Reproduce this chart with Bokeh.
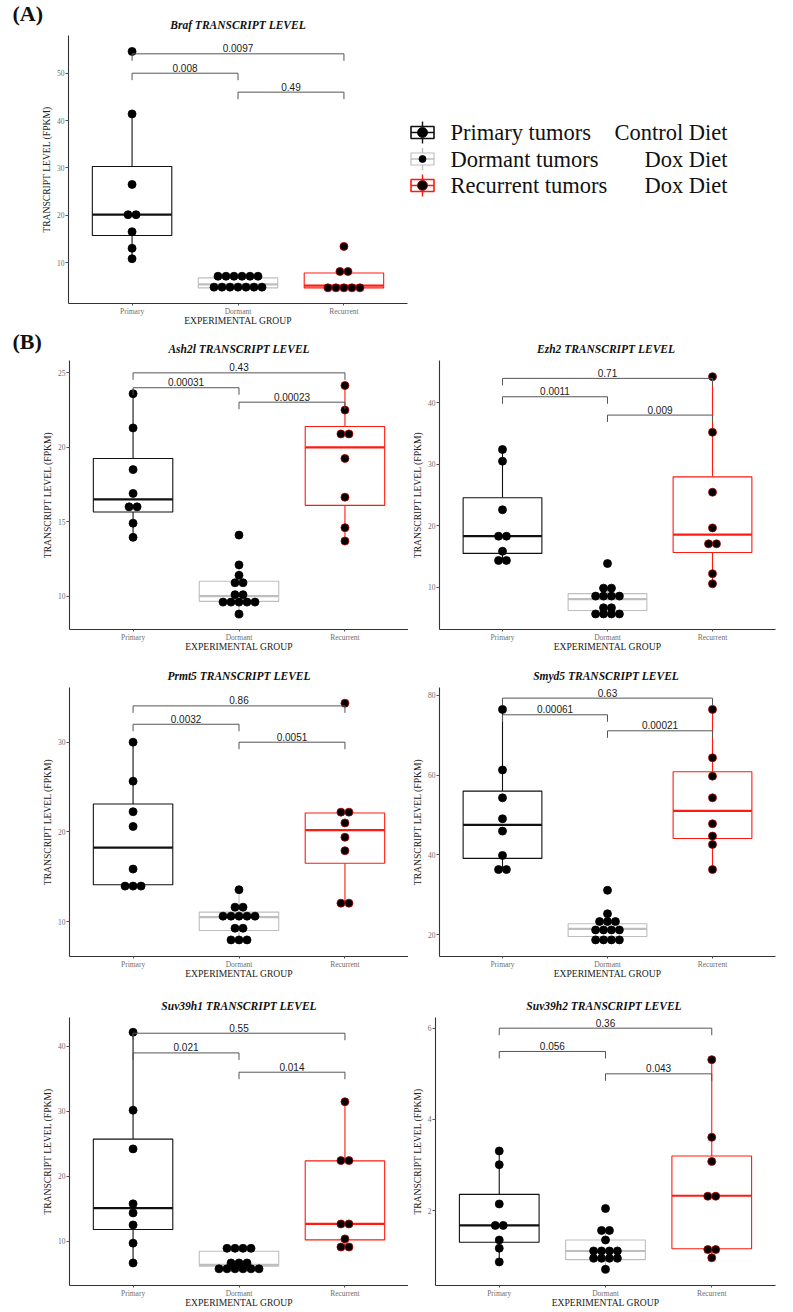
from bokeh.plotting import figure
from bokeh.layouts import column, row
from bokeh.models import Range1d, FixedTicker
from bokeh.embed import file_html
from bokeh.resources import INLINE
from bokeh.core.properties import value

# ---------------- data ----------------
GROUPS = ["Primary", "Dormant", "Recurrent"]
GROUP_X = [1, 2, 3]
BOX_COLORS = ["#111111", "#BEBEBE", "#FF1A10"]
DOT_EDGE = ["#000000", "#000000", "#B00000"]
LEGEND_LABELS = ["Primary tumors", "Dormant tumors", "Recurrent tumors"]
LEGEND_DIETS = ["Control Diet", "Dox Diet", "Dox Diet"]
BRACKET_PAIRS = [(1, 3), (1, 2), (2, 3)]

# Braf
braf_primary = [54.6, 41.4, 26.5, 20.1, 20.1, 16.5, 13.0, 10.8]
braf_dormant = [7.1, 7.1, 7.1, 7.1, 7.1, 7.1, 4.8, 4.8, 4.8, 4.8, 4.8, 4.8, 4.8]
braf_recurrent = [13.4, 8.1, 8.1, 4.65, 4.65, 4.65, 4.65, 4.65]
braf_lower = [10.8, 4.6, 4.6]
braf_q1 = [15.7, 4.65, 4.65]
braf_median = [20.1, 5.4, 5.1]
braf_q3 = [30.3, 6.75, 7.8]
braf_upper = [41.4, 7.1, 8.1]
braf_pvals = ["0.0097", "0.008", "0.49"]
braf_bracket_y = [54.1, 50.0, 46.0]
braf_yticks = [10, 20, 30, 40, 50]

# Ash2l
ash2l_primary = [23.6, 21.3, 18.5, 16.9, 16.0, 16.0, 14.9, 13.95]
ash2l_dormant = [14.1, 12.1, 11.4, 10.9, 10.9, 10.1, 10.1, 9.6, 9.6, 9.6, 9.6, 9.6, 8.8]
ash2l_recurrent = [24.15, 22.5, 20.9, 20.9, 19.25, 16.65, 14.6, 13.7]
ash2l_lower = [13.95, 8.8, 13.7]
ash2l_q1 = [15.65, 9.65, 16.1]
ash2l_median = [16.5, 10.0, 20.0]
ash2l_q3 = [19.25, 11.0, 21.4]
ash2l_upper = [23.6, 12.1, 24.15]
ash2l_pvals = ["0.43", "0.00031", "0.00023"]
ash2l_bracket_y = [25.0, 24.0, 23.03]
ash2l_yticks = [10, 15, 20, 25]

# Ezh2
ezh2_primary = [32.4, 30.5, 22.6, 18.3, 18.3, 15.85, 14.35, 14.35]
ezh2_dormant = [13.85, 9.85, 9.85, 8.55, 8.55, 8.55, 8.55, 6.65, 6.65, 5.65, 5.65, 5.65, 5.65]
ezh2_recurrent = [44.25, 35.2, 25.45, 19.65, 17.05, 17.05, 12.2, 10.55]
ezh2_lower = [14.35, 5.65, 10.55]
ezh2_q1 = [15.5, 6.2, 15.65]
ezh2_median = [18.3, 8.05, 18.55]
ezh2_q3 = [24.55, 8.95, 27.95]
ezh2_upper = [32.4, 9.85, 44.25]
ezh2_pvals = ["0.71", "0.0011", "0.009"]
ezh2_bracket_y = [43.97, 40.98, 38.0]
ezh2_yticks = [10, 20, 30, 40]

# Prmt5
prmt5_primary = [30.0, 25.65, 22.25, 20.6, 15.85, 13.95, 13.95, 13.95]
prmt5_dormant = [13.55, 11.6, 11.6, 10.6, 10.6, 10.6, 10.6, 10.6, 9.25, 9.25, 7.95, 7.95, 7.95]
prmt5_recurrent = [34.35, 22.2, 22.2, 21.0, 19.4, 17.9, 12.05, 12.05]
prmt5_lower = [13.95, 7.95, 12.05]
prmt5_q1 = [14.1, 9.0, 16.5]
prmt5_median = [18.25, 10.5, 20.2]
prmt5_q3 = [23.1, 11.05, 22.1]
prmt5_upper = [30.0, 13.55, 22.2]
prmt5_pvals = ["0.86", "0.0032", "0.0051"]
prmt5_bracket_y = [34.05, 32.0, 30.0]
prmt5_yticks = [10, 20, 30]

# Smyd5
smyd5_primary = [76.5, 61.3, 54.3, 49.05, 45.95, 39.85, 36.3, 36.3]
smyd5_dormant = [31.1, 25.2, 23.25, 23.25, 23.25, 21.15, 21.15, 21.15, 21.15, 18.65, 18.65, 18.65, 18.65]
smyd5_recurrent = [76.5, 64.35, 59.75, 54.3, 47.8, 44.7, 42.6, 36.3]
smyd5_lower = [36.3, 18.65, 36.3]
smyd5_q1 = [39.1, 19.5, 44.1]
smyd5_median = [47.5, 21.4, 51.05]
smyd5_q3 = [56.0, 22.7, 60.85]
smyd5_upper = [76.5, 25.2, 76.5]
smyd5_pvals = ["0.63", "0.00061", "0.00021"]
smyd5_bracket_y = [79.33, 75.15, 71.13]
smyd5_yticks = [20, 40, 60, 80]

# Suv39h1
suv39h1_primary = [42.15, 30.15, 24.2, 15.75, 14.35, 12.5, 9.7, 6.65]
suv39h1_dormant = [8.9, 8.9, 8.9, 8.9, 6.65, 6.65, 6.65, 5.75, 5.75, 5.75, 5.75, 5.75, 5.75]
suv39h1_recurrent = [31.45, 22.4, 22.4, 12.65, 12.65, 10.35, 9.1, 9.1]
suv39h1_lower = [6.65, 5.75, 9.1]
suv39h1_q1 = [11.8, 6.15, 10.2]
suv39h1_median = [15.1, 6.35, 12.65]
suv39h1_q3 = [25.7, 8.45, 22.35]
suv39h1_upper = [42.15, 8.9, 31.45]
suv39h1_pvals = ["0.55", "0.021", "0.014"]
suv39h1_bracket_y = [42.0, 38.97, 36.0]
suv39h1_yticks = [10, 20, 30, 40]

# Suv39h2
suv39h2_primary = [3.31, 3.01, 2.15, 1.68, 1.68, 1.36, 1.18, 0.88]
suv39h2_dormant = [2.05, 1.57, 1.57, 1.36, 1.12, 1.12, 1.12, 1.12, 0.96, 0.96, 0.96, 0.96, 0.72]
suv39h2_recurrent = [5.31, 3.61, 3.08, 2.32, 2.32, 1.15, 1.15, 0.97]
suv39h2_lower = [0.88, 0.72, 0.97]
suv39h2_q1 = [1.31, 0.93, 1.17]
suv39h2_median = [1.68, 1.12, 2.33]
suv39h2_q3 = [2.36, 1.36, 3.2]
suv39h2_upper = [3.31, 1.57, 5.31]
suv39h2_pvals = ["0.36", "0.056", "0.043"]
suv39h2_bracket_y = [6.0, 5.49, 5.0]
suv39h2_yticks = [2, 4, 6]

# ---------------- styling / layout ----------------
SERIF = "Liberation Serif"
SANS = "Liberation Sans"
DOT_PX = 8.0
BOX_HALF = 0.375
TIP_PX = 7.0
PVAL_LIFT_PX = 5.5
PAGE_W = 793
LEFT_W = 408
RIGHT_W = PAGE_W - LEFT_W
MBB = 26


def dot_offsets(vals, dx):
    xs = []
    i = 0
    while i < len(vals):
        j = i
        while j < len(vals) and vals[j] == vals[i]:
            j += 1
        n = j - i
        for k in range(n):
            xs.append((k - (n - 1) / 2.0) * dx)
        i = j
    return xs


def blank_fig(width, height, bottom_border=0):
    f = figure(width=width, height=height, output_backend="svg", toolbar_location=None,
               x_range=Range1d(0, width), y_range=Range1d(height - bottom_border, 0),
               x_axis_type=None, y_axis_type=None, min_border=0,
               min_border_bottom=bottom_border)
    f.outline_line_color = None
    f.grid.visible = False
    return f


def make_panel(pts, lo, q1, med, q3, hi, pvals, by, yticks, yr, width, height, mbl, mbr, mbb):
    p = figure(width=width, height=height, output_backend="svg",
               toolbar_location=None, x_range=Range1d(0.4, 3.6),
               y_range=Range1d(yr[0], yr[1]),
               min_border_left=mbl, min_border_right=mbr,
               min_border_top=0, min_border_bottom=mbb)
    p.outline_line_color = None
    p.grid.visible = False

    frame_w = width - mbl - mbr
    frame_h = height - mbb
    px_per_x = frame_w / 3.2
    px_per_y = frame_h / (yr[1] - yr[0])
    dx = DOT_PX / px_per_x
    tip = TIP_PX / px_per_y
    lift = PVAL_LIFT_PX / px_per_y

    # whiskers
    p.segment(x0=GROUP_X, y0=q3, x1=GROUP_X, y1=hi, line_color=BOX_COLORS, line_width=1.1)
    p.segment(x0=GROUP_X, y0=lo, x1=GROUP_X, y1=q1, line_color=BOX_COLORS, line_width=1.1)
    # boxes
    lefts = [x - BOX_HALF for x in GROUP_X]
    rights = [x + BOX_HALF for x in GROUP_X]
    p.quad(left=lefts, right=rights, bottom=q1, top=q3, fill_color="white",
           line_color=BOX_COLORS, line_width=1.1)
    p.segment(x0=lefts, y0=med, x1=rights, y1=med, line_color=BOX_COLORS, line_width=2.2)

    # dots (dotplot, centred stacks)
    xs, ys, edges = [], [], []
    for gi, vals in enumerate(pts):
        offs = dot_offsets(vals, dx)
        xs += [GROUP_X[gi] + o for o in offs]
        ys += list(vals)
        edges += [DOT_EDGE[gi]] * len(vals)
    p.scatter(x=xs, y=ys, size=DOT_PX, fill_color="black", line_color=edges, line_width=0.8)

    # significance brackets
    bxs, bys, tx, ty = [], [], [], []
    for (a, b), yb in zip(BRACKET_PAIRS, by):
        bxs.append([a, a, b, b])
        bys.append([yb - tip, yb, yb, yb - tip])
        tx.append((a + b) / 2.0)
        ty.append(yb + lift)
    p.multi_line(xs=bxs, ys=bys, line_color="#555555", line_width=1.0)
    p.text(x=tx, y=ty, text=pvals, text_font=value(SANS), text_font_size="10px",
           text_align="center", text_baseline="middle", text_color="#1a1a1a")

    # axes
    p.xaxis.ticker = FixedTicker(ticks=GROUP_X)
    p.xaxis.major_label_overrides = {x: g for x, g in zip(GROUP_X, GROUPS)}
    p.yaxis.ticker = FixedTicker(ticks=yticks)
    p.xaxis.axis_label = "EXPERIMENTAL GROUP"
    p.yaxis.axis_label = "TRANSCRIPT LEVEL (FPKM)"
    for ax in (p.xaxis[0], p.yaxis[0]):
        ax.axis_line_color = "#333333"
        ax.axis_line_width = 1.1
        ax.major_tick_line_color = "#555555"
        ax.major_tick_in = 0
        ax.minor_tick_in = 0
        ax.minor_tick_out = 0
        ax.minor_tick_line_color = None
        ax.major_label_text_font = SERIF
        ax.major_label_text_font_size = "7.5px"
        ax.major_label_text_color = "#6e6e6e"
        ax.axis_label_text_font = SERIF
        ax.axis_label_text_font_size = "9.6px"
        ax.axis_label_text_font_style = "normal"
        ax.axis_label_text_color = "#222222"
    p.xaxis.major_tick_out = 2
    p.xaxis.major_label_standoff = 1
    p.xaxis.axis_label_standoff = -4
    p.yaxis.major_tick_out = 3
    p.yaxis.major_label_standoff = 1
    p.yaxis.axis_label_standoff = 2
    return p


def header(height, labels, title_x, title_y, tag=None, tag_y=None):
    h = blank_fig(PAGE_W, height)
    h.text(x=title_x, y=[title_y] * len(labels), text=labels, text_font=value(SERIF),
           text_font_style="bold italic", text_font_size="11.5px", text_align="center",
           text_baseline="middle", text_color="#111111")
    if tag:
        h.text(x=[12], y=[tag_y], text=[tag], text_font=value(SERIF), text_font_style="bold",
               text_font_size="22px", text_align="left", text_baseline="middle",
               text_color="#111111")
    return h


def title_of(gene):
    return gene + " TRANSCRIPT LEVEL"


# frame centres (x) of the left/right panels
LX = (69 + LEFT_W) / 2.0
RX = LEFT_W + (28 + (RIGHT_W - 18)) / 2.0
RX6 = LEFT_W + (24 + (RIGHT_W - 18)) / 2.0

# Row 1: panel A + legend (canvas 0..328)
h1 = header(35, [title_of("Braf")], [(68 + 407) / 2.0], 24, "(A)", 12.5)
pA = make_panel([braf_primary, braf_dormant, braf_recurrent], braf_lower, braf_q1,
                braf_median, braf_q3, braf_upper, braf_pvals, braf_bracket_y, braf_yticks,
                (1.34, 57.97), LEFT_W, 293, 68, 1, 25)

lg = blank_fig(RIGHT_W, 293, 25)
LEG_TOP, LEG_STEP, ICON_X = 97.0, 26.5, 14.0
leg_y = [LEG_TOP + i * LEG_STEP for i in range(len(GROUPS))]
icon_x = [ICON_X] * len(GROUPS)
lg.segment(x0=icon_x, y0=[y - 11 for y in leg_y], x1=icon_x, y1=[y + 11 for y in leg_y],
           line_color=BOX_COLORS, line_width=1.4)
lg.quad(left=[ICON_X - 11.5] * 3, right=[ICON_X + 11.5] * 3,
        top=[y - 6 for y in leg_y], bottom=[y + 6 for y in leg_y],
        fill_color="white", line_color=BOX_COLORS, line_width=[1.6, 1.2, 1.6])
lg.segment(x0=[ICON_X - 11.5] * 3, y0=leg_y, x1=[ICON_X + 11.5] * 3, y1=leg_y,
           line_color=BOX_COLORS, line_width=1.6)
lg.scatter(x=icon_x, y=leg_y, size=[10, 7, 10], fill_color="black",
           line_color=DOT_EDGE, line_width=0.8)
lg.text(x=[42] * 3, y=leg_y, text=LEGEND_LABELS, text_font=value(SERIF),
        text_font_size="22.5px", text_baseline="middle", text_align="left", text_color="#111111")
lg.text(x=[319] * 3, y=leg_y, text=LEGEND_DIETS, text_font=value(SERIF),
        text_font_size="22.5px", text_baseline="middle", text_align="right", text_color="#111111")

# Row 2 (header 328..360)
h2 = header(32, [title_of("Ash2l"), title_of("Ezh2")], [LX, RX], 20.5, "(B)", 12.5)
pB1 = make_panel([ash2l_primary, ash2l_dormant, ash2l_recurrent], ash2l_lower, ash2l_q1,
                 ash2l_median, ash2l_q3, ash2l_upper, ash2l_pvals, ash2l_bracket_y, ash2l_yticks,
                 (7.76, 25.83), LEFT_W, 295, 69, 0, MBB)
pB2 = make_panel([ezh2_primary, ezh2_dormant, ezh2_recurrent], ezh2_lower, ezh2_q1,
                 ezh2_median, ezh2_q3, ezh2_upper, ezh2_pvals, ezh2_bracket_y, ezh2_yticks,
                 (3.12, 46.88), RIGHT_W, 295, 28, 18, MBB)
# Row 3
h3 = header(32, [title_of("Prmt5"), title_of("Smyd5")], [LX, RX], 20)
pB3 = make_panel([prmt5_primary, prmt5_dormant, prmt5_recurrent], prmt5_lower, prmt5_q1,
                 prmt5_median, prmt5_q3, prmt5_upper, prmt5_pvals, prmt5_bracket_y, prmt5_yticks,
                 (6.10, 36.10), LEFT_W, 295, 69, 0, MBB)
pB4 = make_panel([smyd5_primary, smyd5_dormant, smyd5_recurrent], smyd5_lower, smyd5_q1,
                 smyd5_median, smyd5_q3, smyd5_upper, smyd5_pvals, smyd5_bracket_y, smyd5_yticks,
                 (14.48, 82.0), RIGHT_W, 295, 28, 18, MBB)
# Row 4
h4 = header(35, [title_of("Suv39h1"), title_of("Suv39h2")], [LX, RX6], 23)
pB5 = make_panel([suv39h1_primary, suv39h1_dormant, suv39h1_recurrent], suv39h1_lower,
                 suv39h1_q1, suv39h1_median, suv39h1_q3, suv39h1_upper, suv39h1_pvals,
                 suv39h1_bracket_y, suv39h1_yticks, (3.18, 44.42), LEFT_W, 295, 69, 0, 27)
pB6 = make_panel([suv39h2_primary, suv39h2_dormant, suv39h2_recurrent], suv39h2_lower,
                 suv39h2_q1, suv39h2_median, suv39h2_q3, suv39h2_upper, suv39h2_pvals,
                 suv39h2_bracket_y, suv39h2_yticks, (0.364, 6.234), RIGHT_W, 295, 24, 18, 27)

layout = column(h1, row(pA, lg), h2, row(pB1, pB2), h3, row(pB3, pB4), h4, row(pB5, pB6))
open("out.html", "w").write(file_html(layout, INLINE))
